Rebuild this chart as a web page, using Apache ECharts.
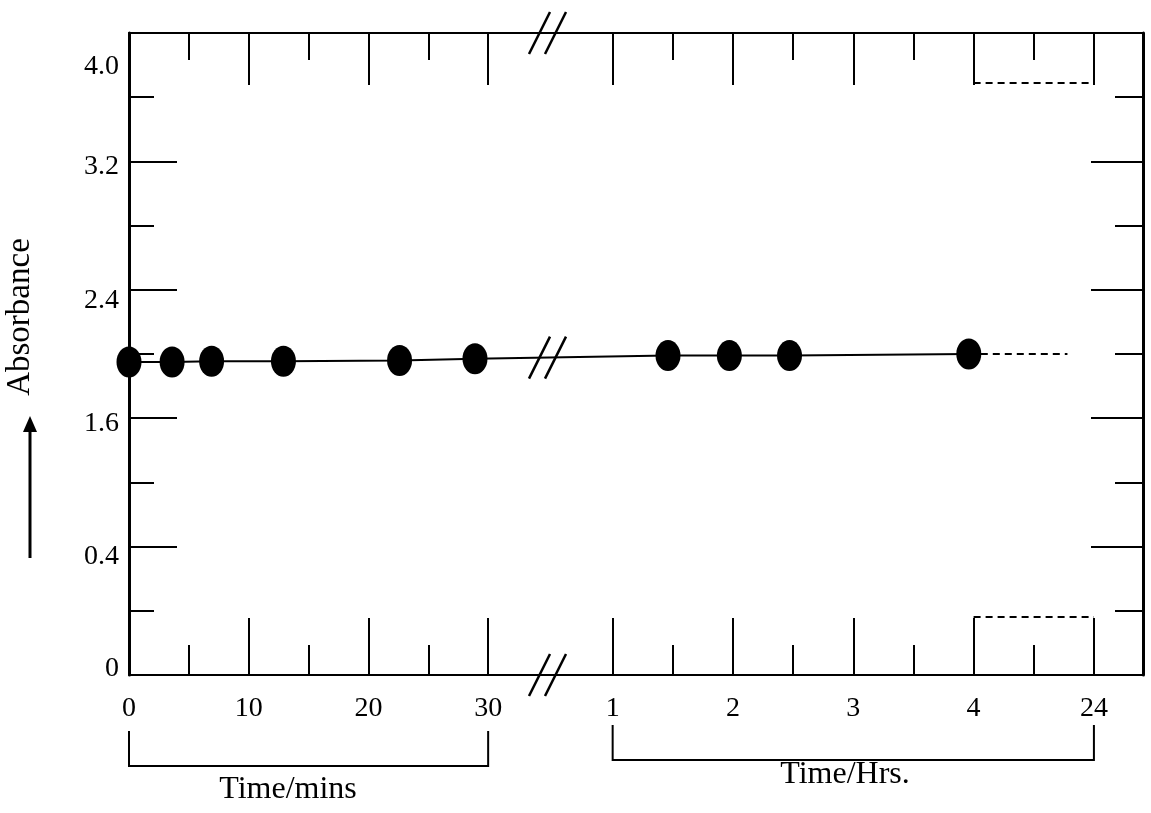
<!DOCTYPE html>
<html>
<head>
<meta charset="utf-8">
<title>Absorbance vs time</title>
<script src="https://cdn.jsdelivr.net/npm/echarts@6/dist/echarts.min.js"></script>
<style>
html, body { margin: 0; padding: 0; background: #fff; }
#chart { width: 1151px; height: 813px; }
</style>
</head>
<body>
<div id="chart"></div>
<script>
// readings during the first half hour (minutes)
const minTimes = [0, 3.6, 6.9, 12.9, 22.6, 28.9];
const minAbsorbance = [1.95, 1.95, 1.955, 1.955, 1.96, 1.97];
// readings afterwards (hours)
const hrTimes = [1.46, 1.97, 2.47, 3.96];
const hrAbsorbance = [1.99, 1.99, 1.99, 2.0];
// dashed extension towards 24 h, in hour-slot units
const extendTo = 4.78;

const minLabels = [0, 10, 20, 30];
const minLongTicks = [10, 20, 30];
const minShortTicks = [5, 15, 25];
const hrLabels = ['1', '2', '3', '4', '24'];   // one slot each
const hrShortTicks = [1.5, 2.5, 3.5, 4.5];

// y labels sit where the printed figure puts them
const yLabelValues = [0.04, 0.735, 1.565, 2.335, 3.17, 3.79];
const yLabelTexts = ['0', '0.4', '1.6', '2.4', '3.2', '4.0'];
const yLongTicks = [0.8, 1.6, 2.4, 3.2];
const yShortTicks = [0.4, 1.2, 2.0, 2.8, 3.6];

// broken time axis: minutes 0-30 on the left, hour slots after the break
const HOUR0 = 40.4, HOUR_W = 10.05, XMAX = 84.7, BREAK_X = 35.0;
function hx(h) { return HOUR0 + (h - 1) * HOUR_W; }

const FONT = 'Liberation Serif';
const BLACK = '#000';

const xLabelPos = minLabels.concat(hrLabels.map((_, i) => hx(i + 1)));
const xLabelText = minLabels.map(String).concat(hrLabels);
const xLong = minLongTicks.concat(hrLabels.map((_, i) => hx(i + 1)));
const xShort = minShortTicks.concat(hrShortTicks.map(hx));

function pick(pos, texts, v) {
    for (let i = 0; i < pos.length; i++) {
        if (Math.abs(pos[i] - v) < 0.001) return texts[i];
    }
    return '';
}

function xAxisDef(position, ticks, len, showLine, showLabel) {
    return {
        type: 'value', min: 0, max: XMAX, position: position,
        axisLine: { show: showLine, onZero: false, lineStyle: { color: BLACK, width: 2 } },
        axisTick: { show: true, inside: true, length: len, customValues: ticks,
            lineStyle: { color: BLACK, width: 2 } },
        axisLabel: showLabel ? {
            show: true, customValues: xLabelPos, margin: 20,
            color: BLACK, fontFamily: FONT, fontSize: 28,
            formatter: v => pick(xLabelPos, xLabelText, v)
        } : { show: false },
        splitLine: { show: false }
    };
}

function yAxisDef(position, ticks, len, showLine, showLabel) {
    return {
        type: 'value', min: 0, max: 4, position: position,
        axisLine: { show: showLine, onZero: false, lineStyle: { color: BLACK, width: 3 } },
        axisTick: { show: true, inside: true, length: len, customValues: ticks,
            lineStyle: { color: BLACK, width: 2 } },
        axisLabel: showLabel ? {
            show: true, customValues: yLabelValues, margin: 10,
            color: BLACK, fontFamily: FONT, fontSize: 28,
            formatter: v => pick(yLabelValues, yLabelTexts, v)
        } : { show: false },
        splitLine: { show: false }
    };
}

const points = minTimes.map((t, i) => [t, minAbsorbance[i]])
    .concat(hrTimes.map((t, i) => [hx(t), hrAbsorbance[i]]));
const last = points[points.length - 1];
const extension = [last, [hx(extendTo), last[1]]];

// where the data line crosses the break
const a = points[minTimes.length - 1], b = points[minTimes.length];
const lineAtBreak = a[1] + (b[1] - a[1]) * (BREAK_X - a[0]) / (b[0] - a[0]);
const breakPts = [[BREAK_X, 0], [BREAK_X, 4], [BREAK_X, lineAtBreak]];

const chart = echarts.init(document.getElementById('chart'));
const option = {
    animation: false,
    backgroundColor: '#fff',
    grid: { left: 129, right: 8, top: 33, bottom: 138, containLabel: false, outerBoundsMode: 'none' },
    xAxis: [
        xAxisDef('bottom', xLong, 57, true, true),
        xAxisDef('bottom', xShort, 30, false, false),
        xAxisDef('top', xLong, 52, true, false),
        xAxisDef('top', xShort, 27, false, false)
    ],
    yAxis: [
        yAxisDef('left', yLongTicks, 48, true, true),
        yAxisDef('left', yShortTicks, 25, false, false),
        yAxisDef('right', yLongTicks, 52, true, false),
        yAxisDef('right', yShortTicks, 28, false, false)
    ],
    series: [
        {
            type: 'line',
            data: points,
            symbol: 'circle',
            symbolSize: [25, 31],
            itemStyle: { color: BLACK },
            lineStyle: { color: BLACK, width: 2 },
            z: 5
        },
        {
            type: 'line',
            data: extension,
            symbol: 'none',
            lineStyle: { color: BLACK, width: 2, type: [7, 5] }
        },
        {
            type: 'custom',
            silent: true,
            clip: false,
            data: breakPts,
            renderItem: function (params, api) {
                const p = api.coord([api.value(0), api.value(1)]);
                const st = { stroke: BLACK, lineWidth: 2.5 };
                return {
                    type: 'group',
                    children: [
                        { type: 'line', shape: { x1: p[0] - 19, y1: p[1] + 21, x2: p[0] + 2, y2: p[1] - 21 }, style: st },
                        { type: 'line', shape: { x1: p[0] - 3, y1: p[1] + 21, x2: p[0] + 18, y2: p[1] - 21 }, style: st }
                    ]
                };
            },
            z: 6
        }
    ]
};
chart.setOption(option);

// brackets, dashed boxes and titles placed from the axes
const px = v => chart.convertToPixel({ xAxisIndex: 0 }, v);
const py = v => chart.convertToPixel({ yAxisIndex: 0 }, v);
const x0 = px(0), x30 = px(30), h1 = px(hx(1)), h4 = px(hx(4)), h24 = px(hx(5));
const yTop = py(4), yBot = py(0);
const lineSt = { stroke: BLACK, lineWidth: 2, fill: null };
const dashSt = { stroke: BLACK, lineWidth: 2, lineDash: [7, 5], fill: null };
const titleFont = '32px "Liberation Serif"';

chart.setOption({
    graphic: [
        { type: 'polyline', shape: { points: [[x0, 731], [x0, 766], [x30, 766], [x30, 731]] }, style: lineSt },
        { type: 'polyline', shape: { points: [[h1, 725], [h1, 760], [h24, 760], [h24, 725]] }, style: lineSt },
        { type: 'line', shape: { x1: h4, y1: yTop + 50, x2: h24, y2: yTop + 50 }, style: dashSt },
        { type: 'line', shape: { x1: h4, y1: yBot - 58, x2: h24, y2: yBot - 58 }, style: dashSt },
        { type: 'text', x: 288, y: 790, style: { text: 'Time/mins', font: titleFont, fill: BLACK, align: 'center', verticalAlign: 'middle' } },
        { type: 'text', x: 845, y: 775, style: { text: 'Time/Hrs.', font: titleFont, fill: BLACK, align: 'center', verticalAlign: 'middle' } },
        { type: 'text', x: 20, y: 317, rotation: Math.PI / 2, style: { text: 'Absorbance', font: '33px "Liberation Serif"', fill: BLACK, align: 'center', verticalAlign: 'middle' } },
        { type: 'line', shape: { x1: 30, y1: 558, x2: 30, y2: 428 }, style: { stroke: BLACK, lineWidth: 3 } },
        { type: 'polygon', shape: { points: [[23, 432], [37, 432], [30, 416]] }, style: { fill: BLACK } }
    ]
});
</script>
</body>
</html>
